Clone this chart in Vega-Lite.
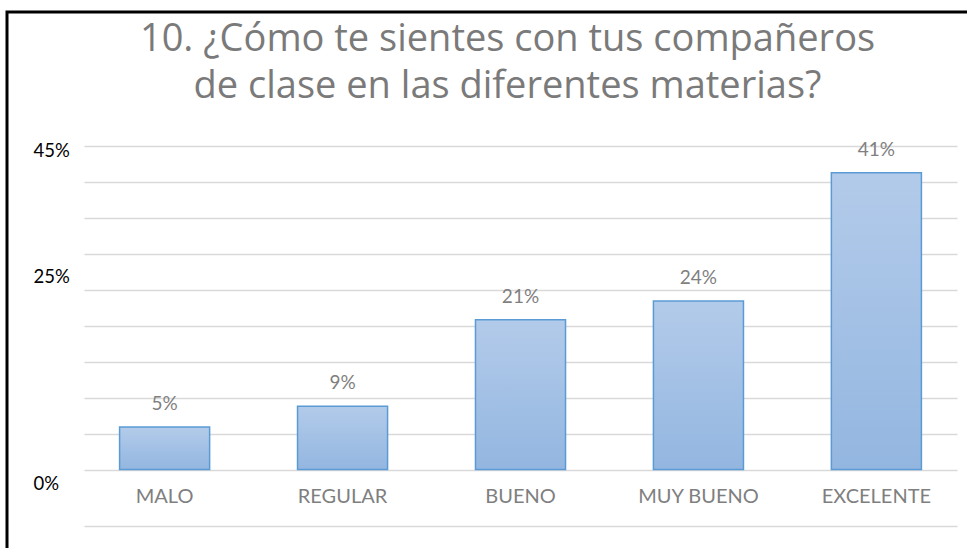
{
  "$schema": "https://vega.github.io/schema/vega-lite/v6.json",
  "autosize": {"type": "none"},
  "padding": {"left": 7, "top": 12, "right": 0, "bottom": 0},
  "width": 965,
  "height": 540,
  "background": "white",
  "config": {
    "view": {"stroke": "black", "strokeWidth": 3},
    "font": "Lato"
  },
  "title": {
    "text": ["10. ¿Cómo te sientes con tus compañeros", "de clase en las diferentes materias?"],
    "frame": "group",
    "anchor": "middle",
    "orient": "top",
    "offset": -124,
    "dx": 18,
    "baseline": "alphabetic",
    "font": "Open Sans",
    "fontSize": 38,
    "fontWeight": "normal",
    "color": "#7a7a7a",
    "lineHeight": 47
  },
  "data": {
    "values": [
      {"categoria": "MALO", "porcentaje": 5.9, "etiqueta": "5%"},
      {"categoria": "REGULAR", "porcentaje": 8.8, "etiqueta": "9%"},
      {"categoria": "BUENO", "porcentaje": 20.8, "etiqueta": "21%"},
      {"categoria": "MUY BUENO", "porcentaje": 23.4, "etiqueta": "24%"},
      {"categoria": "EXCELENTE", "porcentaje": 41.2, "etiqueta": "41%"}
    ]
  },
  "encoding": {
    "x": {
      "field": "categoria",
      "type": "nominal",
      "sort": null,
      "scale": {"range": [77, 950], "paddingInner": 0.494, "paddingOuter": 0.2},
      "axis": {
        "title": null,
        "orient": "bottom",
        "offset": -26,
        "domainColor": "#d9d9d9",
        "domainWidth": 1.5,
        "ticks": false,
        "tickSize": 0,
        "labelAngle": 0,
        "labelPadding": -29.5,
        "labelBaseline": "middle",
        "labelFont": "Lato",
        "labelFontSize": 20,
        "labelColor": "#7f7f7f"
      }
    },
    "y": {
      "field": "porcentaje",
      "type": "quantitative",
      "scale": {"domain": [-11.458, 63.542], "nice": false, "zero": false},
      "axis": {
        "title": null,
        "values": [0, 5, 10, 15, 20, 25, 30, 35, 40, 45],
        "labelExpr": "datum.value == 0 || datum.value == 25 || datum.value == 45 ? datum.value + '%' : ''",
        "grid": true,
        "gridColor": "#d9d9d9",
        "gridWidth": 1.5,
        "domain": false,
        "ticks": false,
        "tickSize": 0,
        "labelAlign": "left",
        "labelBaseline": "middle",
        "labelPadding": -26,
        "labelOffset": {"expr": "datum.value == 45 ? 4.5 : datum.value == 25 ? -13 : 13.5"},
        "labelFont": "Lato",
        "labelFontSize": 18.5,
        "labelColor": "black"
      }
    }
  },
  "layer": [
    {
      "mark": {
        "type": "bar",
        "stroke": "#5b9bd5",
        "strokeWidth": 1.5,
        "color": {
          "gradient": "linear",
          "x1": 0, "y1": 0, "x2": 0, "y2": 1,
          "stops": [
            {"offset": 0, "color": "#b3cbea"},
            {"offset": 1, "color": "#93b6e0"}
          ]
        }
      },
      "encoding": {
        "y2": {"datum": 0}
      }
    },
    {
      "mark": {
        "type": "text",
        "dy": -23,
        "baseline": "middle",
        "font": "Lato",
        "fontSize": 19,
        "color": "#7f7f7f"
      },
      "encoding": {
        "text": {"field": "etiqueta"}
      }
    }
  ]
}
